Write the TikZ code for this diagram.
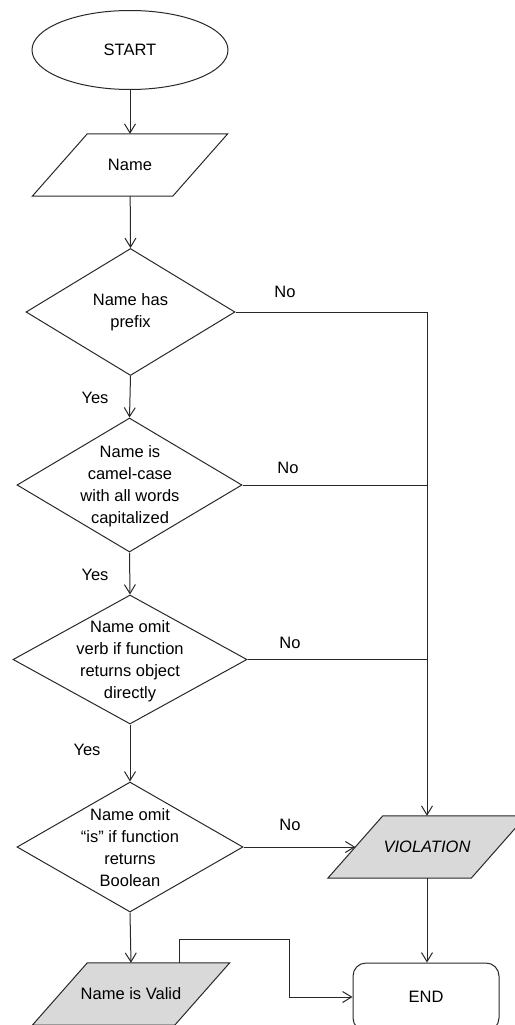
\documentclass[tikz,border=0pt]{standalone}
\usepackage{fontspec}
\setmainfont{Liberation Sans}
\usetikzlibrary{shapes.geometric,arrows.meta,backgrounds}
\definecolor{lightfill}{RGB}{217,217,217}
\definecolor{linec}{RGB}{40,40,40}
\begin{document}
\begin{tikzpicture}[x=1pt,y=-1pt,
  every node/.style={font=\fontsize{16.5}{22}\selectfont, text=black},
  base/.style={draw=linec, line width=1pt, inner sep=0pt},
  term/.style={base, ellipse, minimum width=196pt, minimum height=79pt},
  iobox/.style={rectangle, inner sep=0pt, minimum height=62pt},
  paraline/.style={draw=linec, line width=1pt, line join=miter},
  decide/.style={base, diamond},
  dtext/.style={align=center, inner sep=0pt},
  endbox/.style={base, rectangle, rounded corners=13pt, minimum width=146pt, minimum height=68pt},
  lab/.style={inner sep=0pt},
  arr/.style={draw=linec, line width=1pt, -{Straight Barb[length=9pt,width=11pt]}},
  ln/.style={draw=linec, line width=1pt}
]
\useasboundingbox (0,0) rectangle (514,1025);

\node[term] (start) at (130,50) {START};
\node[iobox, minimum width=140pt] (name) at (130,165) {Name};

\node[decide, minimum width=209pt, minimum height=127pt] (d1) at (130.5,312) {};
\node[dtext] (d1t) at (d1) {Name has\\prefix};

\node[decide, minimum width=225pt, minimum height=134pt] (d2) at (129.5,485) {};
\node[dtext] (d2t) at (130,486) {Name is\\camel-case\\with all words\\capitalized};

\node[decide, minimum width=234pt, minimum height=129pt] (d3) at (130,659.5) {};
\node[dtext] (d3t) at (130,661) {Name omit\\verb if function\\returns object\\directly};

\node[decide, minimum width=226pt, minimum height=130pt] (d4) at (130,847) {};
\node[dtext] (d4t) at (130,848) {Name omit\\“is” if function\\returns\\Boolean};

\node[iobox, minimum width=143pt] (viol) at (427,847) {\itshape VIOLATION};
\node[iobox, minimum width=142pt] (valid) at (131,994) {Name is Valid};
\node[endbox] (end) at (426,997) {END};

\begin{pgfonlayer}{background}
\path[paraline] ([xshift=27.5pt]name.north west) -- ([xshift=27.5pt]name.north east)
  -- ([xshift=-27.5pt]name.south east) -- ([xshift=-27.5pt]name.south west) -- cycle;
\path[paraline, fill=lightfill] ([xshift=27.5pt]viol.north west) -- ([xshift=27.5pt]viol.north east)
  -- ([xshift=-27.5pt]viol.south east) -- ([xshift=-27.5pt]viol.south west) -- cycle;
\path[paraline, fill=lightfill] ([xshift=27.5pt]valid.north west) -- ([xshift=27.5pt]valid.north east)
  -- ([xshift=-27.5pt]valid.south east) -- ([xshift=-27.5pt]valid.south west) -- cycle;
\end{pgfonlayer}

% labels
\node[lab] (no1) at (285,292) {No};
\node[lab] (no2) at (288,468) {No};
\node[lab] (no3) at (290,643) {No};
\node[lab] (no4) at (290,825) {No};
\node[lab] (yes1) at (95,398) {Yes};
\node[lab] (yes2) at (95,575) {Yes};
\node[lab] (yes3) at (87,750) {Yes};

% coordinates
\coordinate (vx) at (179,939);
\coordinate (vx2) at (289,939);

% connectors
\draw[arr] (start) -- (name);
\draw[arr] (name) -- (d1.north);
\draw[arr] (d1.south) -- (d2.north);
\draw[arr] (d2.south) -- (d3.north);
\draw[arr] (d3.south) -- (d4.north);
\draw[arr] (d4.south) -- (valid.north);
\draw[arr] (d1.east) -| (viol.north);
\draw[ln] (d2.east) -- (d2.east -| viol.north);
\draw[ln] (d3.east) -- (d3.east -| viol.north);
\draw[arr] (d4.east) -- (viol);
\draw[arr] (viol.south) -- (viol.south |- end.north);
\draw[arr] (valid.north -| vx) |- (vx2) |- (end.west);
\end{tikzpicture}
\end{document}
